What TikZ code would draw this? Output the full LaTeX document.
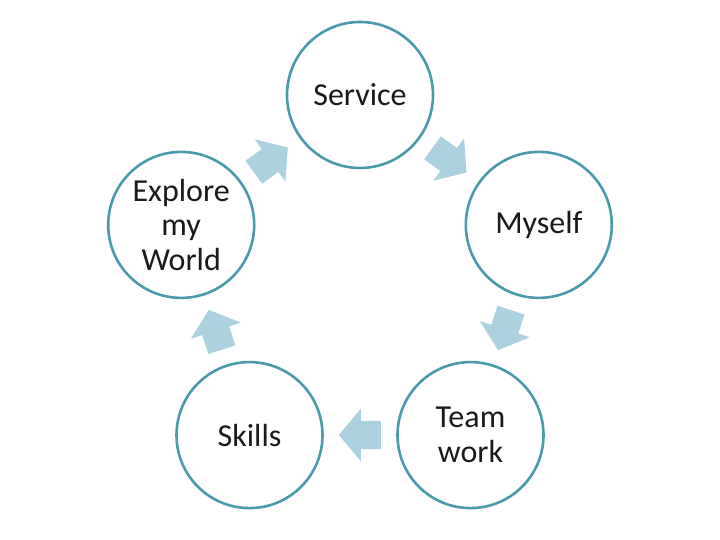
\documentclass[tikz,border=0pt]{standalone}
\usepackage{fontspec}
\setmainfont{Carlito}
\usetikzlibrary{shapes.arrows,calc}
\definecolor{ringTeal}{HTML}{4A9AAB}
\definecolor{arrowBlue}{HTML}{ABD1DF}
\definecolor{textDark}{HTML}{1A1A1A}

\begin{document}
\begin{tikzpicture}[
  x=1pt, y=1pt,
  ring/.style={circle, draw=ringTeal, line width=2.6pt, fill=white, minimum size=146pt, inner sep=0pt, align=center, text=textDark, font=\fontsize{32}{34.5}\selectfont},
  blockarrow/.style={single arrow, fill=arrowBlue, draw=none, anchor=tail, minimum height=42pt, minimum width=52pt, single arrow head extend=12pt, single arrow tip angle=100, inner xsep=0pt, inner ysep=14pt}
]
\useasboundingbox (0,0) rectangle (720,540);
\coordinate (hub) at (360,257);
% circles
\node[ring] (service) at ($(hub)+(90:188)$) {Service};
\node[ring] (myself) at ($(hub)+(18:188)$) {Myself};
\node[ring] (teamwork) at ($(hub)+(-54:188)$) {Team\\work};
\node[ring] (skills) at ($(hub)+(-126:188)$) {Skills};
\node[ring] (explore) at ($(hub)+(162:188)$) {Explore\\my\\World};
% arrows between circles (tail placed half a length back from the midpoint)
\node[blockarrow, rotate=36] (toservice) at ($(hub)+(126:152)+(216:21)$) {};
\node[blockarrow, rotate=-36] (tomyself) at ($(hub)+(54:152)+(144:21)$) {};
\node[blockarrow, rotate=-108] (toteam) at ($(hub)+(-18:152)+(72:21)$) {};
\node[blockarrow, rotate=180] (toskills) at ($(hub)+(-90:152)+(0:21)$) {};
\node[blockarrow, rotate=108] (toexplore) at ($(hub)+(198:152)+(288:21)$) {};
\end{tikzpicture}
\end{document}
